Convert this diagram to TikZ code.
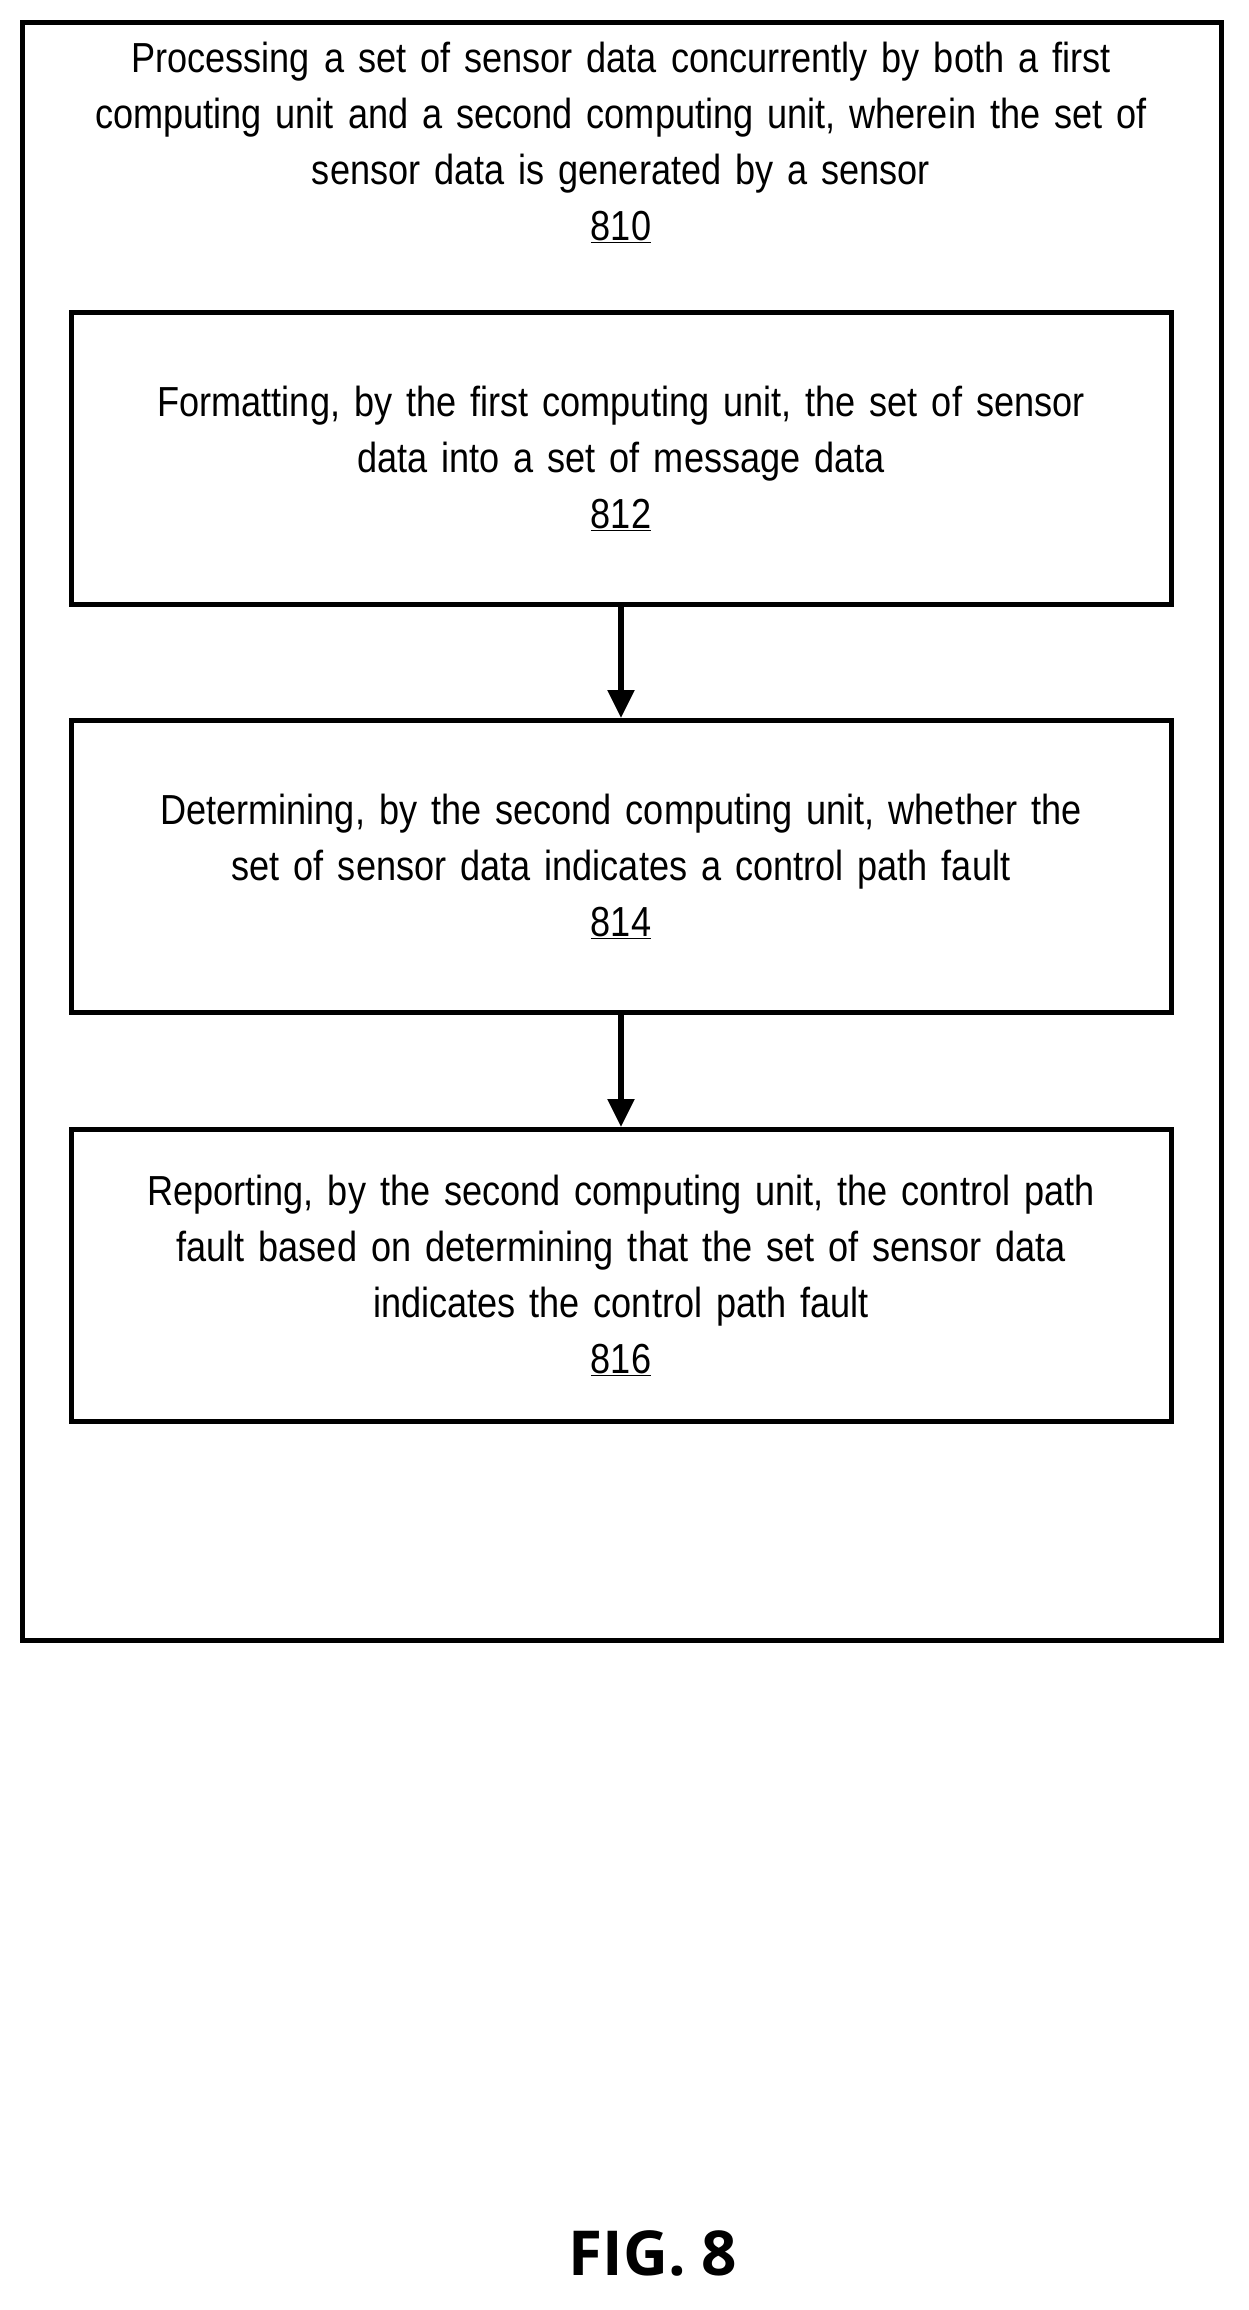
\documentclass[tikz,border=0pt]{standalone}
\usepackage{fontspec}
\setmainfont[FakeStretch=0.86]{Liberation Sans}
\newfontfamily\figfont{Open Sans}
\usetikzlibrary{positioning,arrows.meta}
\tikzset{
  stepbox/.style={draw, line width=5pt, minimum width=1060pt, minimum height=292pt,
    text width=1100pt, align=center, font=\fontsize{42}{56}\selectfont, inner sep=0pt},
  flow/.style={line width=5.5pt, -{Triangle[length=28pt,width=26pt]}}
}
\begin{document}
\begin{tikzpicture}[x=1pt,y=-1pt]
    \useasboundingbox (0,0) rectangle (1248,2310);
    \draw[line width=5pt] (22,22) rectangle (1221,1640);
    \node[anchor=north, text width=1190pt, align=center, font=\fontsize{42}{56}\selectfont, inner sep=0pt] (outer) at (621,42)
        {Processing a set of sensor data concurrently by both a first\\ computing unit and a second computing unit, wherein the set of\\ sensor data is generated by a sensor\\ \underline{810}};
    \node[stepbox, anchor=north] (fmt) at (621,310)
        {Formatting, by the first computing unit, the set of sensor\\ data into a set of message data\\ \underline{812}};
    \node[stepbox, anchor=north] (det) at (621,718)
        {Determining, by the second computing unit, whether the\\ set of sensor data indicates a control path fault\\ \underline{814}};
    \node[stepbox, anchor=north] (rep) at (621,1127)
        {Reporting, by the second computing unit, the control path\\ fault based on determining that the set of sensor data\\ indicates the control path fault\\ \underline{816}};
    \draw[flow] (fmt) -- (det);
    \draw[flow] (det) -- (rep);
    \node[font=\fontsize{62}{70}\selectfont\figfont\bfseries] (fig) at (653,2253) {FIG. 8};
\end{tikzpicture}
\end{document}
